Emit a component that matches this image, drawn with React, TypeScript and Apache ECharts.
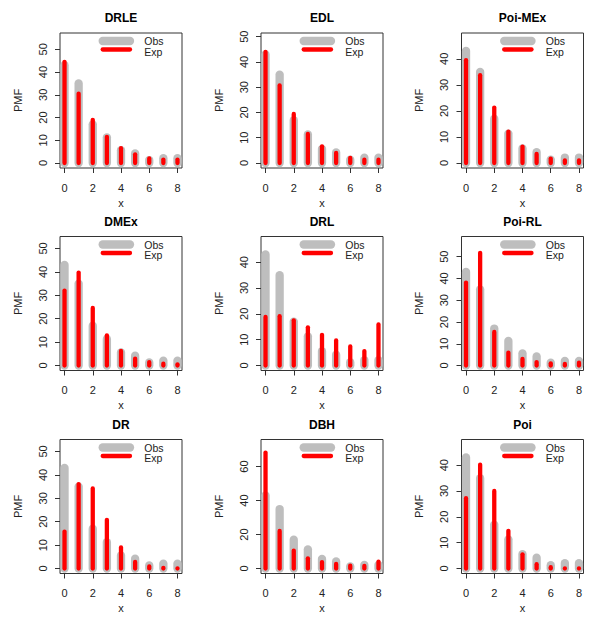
import React, { useEffect, useRef } from "react";
import * as echarts from "echarts";

// ---- data ----
const TITLES = ["DRLE", "EDL", "Poi-MEx", "DMEx", "DRL", "Poi-RL", "DR", "DBH", "Poi"];
const X_VALUES = [0, 1, 2, 3, 4, 5, 6, 7, 8];
const X_TICKS = [0, 2, 4, 6, 8];
const OBS = [43, 35, 17, 11.3, 5.6, 4.2, 1.3, 2.1, 2.1];
const EXP_DRLE = [44.5, 30.5, 19, 11.5, 6.5, 3.8, 2, 1.5, 1.5];
const EXP_EDL = [44, 30.7, 19.4, 11.5, 6.6, 4.0, 2.0, 1.3, 1.3];
const EXP_POI_MEX = [39.5, 33.7, 21.3, 12, 6.3, 3.5, 1.7, 1.0, 1.0];
const EXP_DMEX = [32, 39.7, 24.6, 12.9, 6.2, 2.9, 1.5, 0.8, 0.5];
const EXP_DRL = [18.8, 19.1, 17.5, 14.8, 11.9, 9.7, 7.4, 5.6, 15.9];
const EXP_POI_RL = [38.1, 51.8, 15.4, 5.9, 3.0, 1.6, 1.0, 0.7, 1.3];
const EXP_DR = [15.8, 36.1, 34.2, 20.8, 9.0, 2.8, 0.9, 0.3, 0.1];
const EXP_DBH = [68.2, 22.1, 10.5, 6.0, 3.8, 2.7, 1.7, 1.5, 4.0];
const EXP_POI = [27.2, 40.2, 30.0, 14.6, 5.5, 1.7, 0.5, 0.1, 0.1];
const EXPS = [EXP_DRLE, EXP_EDL, EXP_POI_MEX, EXP_DMEX, EXP_DRL, EXP_POI_RL, EXP_DR, EXP_DBH, EXP_POI];
const Y_LIM = [55, 49.5, 48, 53, 48, 57, 53, 73, 48];
const Y_TICKS_50 = [0, 10, 20, 30, 40, 50];
const Y_TICKS_40 = [0, 10, 20, 30, 40];
const Y_TICKS_60 = [0, 20, 40, 60];
const Y_TICKS = [Y_TICKS_50, Y_TICKS_50, Y_TICKS_40, Y_TICKS_50, Y_TICKS_40, Y_TICKS_50, Y_TICKS_50, Y_TICKS_60, Y_TICKS_40];
const LEGEND_NAMES = ["Obs", "Exp"];

// ---- layout ----
const COL_LEFT = [60, 261, 461.5];
const ROW_TOP = [33, 236.5, 439.5];
const BOX_W = 122;
const BOX_H = [135, 134, 134];
const FONT = "Liberation Sans, Arial, Helvetica, sans-serif";
const TXT = "#222";
const AX = "#333";
const GRAY = "#bebebe";
const RED = "#ff0000";

function stemSeries(idx: number, name: string, values: number[], color: string, width: number) {
  return {
    type: "custom",
    name,
    xAxisIndex: idx,
    yAxisIndex: idx,
    data: X_VALUES.map((x, i) => [x, values[i]]),
    renderItem: (_p: any, api: any) => {
      const x = api.value(0);
      const v = api.value(1);
      const a = api.coord([x, 0]);
      const b = api.coord([x, v]);
      return {
        type: "line",
        shape: { x1: a[0], y1: a[1], x2: b[0], y2: b[1] },
        style: { stroke: color, lineWidth: width, lineCap: "round" },
      };
    },
  };
}

export default function App() {
  const ref = useRef<HTMLDivElement>(null);
  useEffect(() => {
    if (!ref.current) return;
    const chart = echarts.init(ref.current, null, { renderer: "svg" });
    const grid: any[] = [];
    const xAxis: any[] = [];
    const yAxis: any[] = [];
    const series: any[] = [];
    const title: any[] = [];
    const graphic: any[] = [];
    TITLES.forEach((t, i) => {
      const r = Math.floor(i / 3);
      const c = i % 3;
      const left = COL_LEFT[c];
      const top = ROW_TOP[r];
      const h = BOX_H[r];
      grid.push({
        left, top, width: BOX_W, height: h,
        show: true, borderColor: AX, borderWidth: 1, backgroundColor: "transparent",
        outerBoundsMode: "none", containLabel: false,
      });
      const R = Y_LIM[i];
      xAxis.push({
        type: "value", gridIndex: i, min: -0.04 * 8, max: 8 + 0.04 * 8,
        name: "x", nameLocation: "middle", nameGap: 29, nameMoveOverlap: false,
        nameTextStyle: { fontFamily: FONT, fontSize: 11, color: TXT },
        axisLine: { show: false, onZero: false },
        axisTick: { show: true, length: 5, inside: false, customValues: X_TICKS, lineStyle: { color: AX, width: 1 } },
        axisLabel: { customValues: X_TICKS, margin: 14, fontFamily: FONT, fontSize: 11, color: TXT },
        splitLine: { show: false },
      });
      yAxis.push({
        type: "value", gridIndex: i, min: -0.04 * R, max: 1.04 * R,
        name: "PMF", nameLocation: "middle", nameGap: 37, nameMoveOverlap: false,
        nameTextStyle: { fontFamily: FONT, fontSize: 11, color: TXT },
        axisLine: { show: false, onZero: false },
        axisTick: { show: true, length: 5, inside: false, customValues: Y_TICKS[i], lineStyle: { color: AX, width: 1 } },
        axisLabel: { customValues: Y_TICKS[i], rotate: 90, margin: 12, fontFamily: FONT, fontSize: 11, color: TXT },
        splitLine: { show: false },
      });
      series.push(stemSeries(i, LEGEND_NAMES[0], OBS, GRAY, 8.3));
      series.push(stemSeries(i, LEGEND_NAMES[1], EXPS[i], RED, 4.3));
      title.push({
        text: t, left: left + BOX_W / 2, top: top - 15, padding: 0,
        textAlign: "center", textVerticalAlign: "middle",
        textStyle: { fontFamily: FONT, fontSize: 12, fontWeight: "bold", color: "#000" },
      });
      const segL = left + 42.7;
      const segR = left + 70;
      graphic.push(
        { type: "line", shape: { x1: segL, y1: top + 8, x2: segR, y2: top + 8 }, style: { stroke: GRAY, lineWidth: 8.3, lineCap: "round" } },
        { type: "line", shape: { x1: segL, y1: top + 16.5, x2: segR, y2: top + 16.5 }, style: { stroke: RED, lineWidth: 4.3, lineCap: "round" } },
        { type: "text", x: left + 84.3, y: top + 8.4, style: { text: LEGEND_NAMES[0], fontFamily: FONT, fontSize: 10.5, lineHeight: 10, fill: TXT, textAlign: "left", textVerticalAlign: "middle" } },
        { type: "text", x: left + 84.3, y: top + 18.9, style: { text: LEGEND_NAMES[1], fontFamily: FONT, fontSize: 10.5, lineHeight: 10, fill: TXT, textAlign: "left", textVerticalAlign: "middle" } },
      );
    });
    chart.setOption({
      animation: false,
      backgroundColor: "#fff",
      title, grid, xAxis, yAxis, series, graphic,
    });
    return () => chart.dispose();
  }, []);
  return <div ref={ref} style={{ position: "fixed", left: 0, top: 0, width: 601, height: 618 }} />;
}
